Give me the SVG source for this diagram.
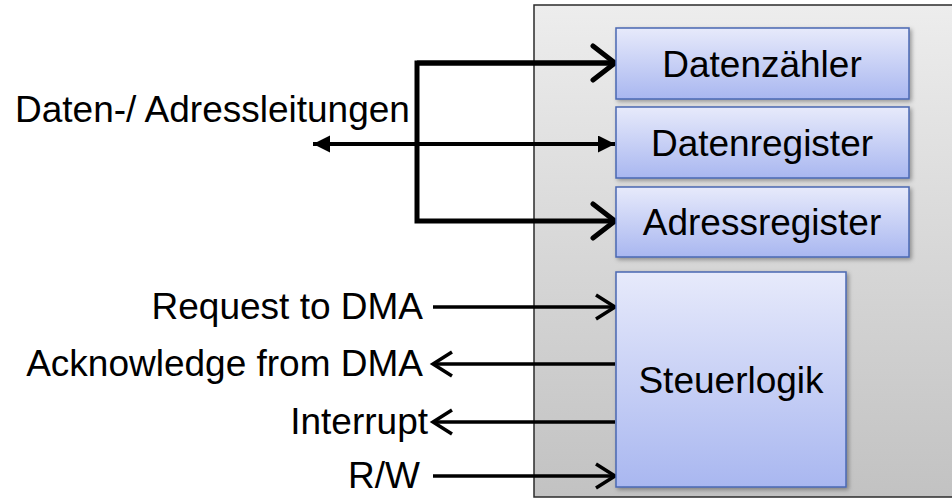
<svg xmlns="http://www.w3.org/2000/svg" width="952" height="499" viewBox="0 0 952 499">
  <defs>
    <linearGradient id="caseFill" x1="0" y1="0" x2="0" y2="1">
      <stop offset="0" stop-color="#ededed"/>
      <stop offset="1" stop-color="#c2c2c2"/>
    </linearGradient>
    <linearGradient id="blockFill" x1="0" y1="0" x2="0" y2="1">
      <stop offset="0" stop-color="#e7eafb"/>
      <stop offset="1" stop-color="#a9b7f0"/>
    </linearGradient>
    <filter id="shadow" x="-10%" y="-10%" width="130%" height="130%">
      <feDropShadow dx="2" dy="2" stdDeviation="2" flood-color="#000" flood-opacity="0.35"/>
    </filter>
    <!-- open chevron for the thick bus lines -->
    <marker id="chevBig" markerUnits="userSpaceOnUse" markerWidth="32" markerHeight="42" refX="26" refY="20" orient="auto">
      <path d="M4,3 L26,20 L4,37" fill="none" stroke="#000" stroke-width="5" stroke-linecap="round"/>
    </marker>
    <!-- open chevron for the control lines -->
    <marker id="chevSmall" markerUnits="userSpaceOnUse" markerWidth="26" markerHeight="30" refX="21" refY="14" orient="auto-start-reverse">
      <path d="M2,2 L21,14 L2,26" fill="none" stroke="#000" stroke-width="3.5"/>
    </marker>
    <!-- filled triangle for the bidirectional bus -->
    <marker id="tri" markerUnits="userSpaceOnUse" markerWidth="18" markerHeight="18" refX="17" refY="8.5" orient="auto-start-reverse">
      <path d="M0,0 L17,8.5 L0,17 z" fill="#000"/>
    </marker>
    <style>
      .lbl { font-family: "Liberation Sans", Arial, sans-serif; font-size: 37px; fill: #000; }
      .blk { fill: url(#blockFill); stroke: #4a68b3; stroke-width: 1.5; filter: url(#shadow); }
      .bus { fill: none; stroke: #000; stroke-width: 5; }
      .sig { fill: none; stroke: #000; stroke-width: 3.5; }
    </style>
  </defs>

  <!-- DMA controller housing -->
  <g id="controller">
    <rect x="534" y="5" width="430" height="492" fill="url(#caseFill)" stroke="#2b2b2b" stroke-width="1.5"/>
  </g>

  <g id="connectors">
    <!-- address/data bus -->
    <path class="bus" d="M615,63 H417 V221 H615" marker-end="url(#chevBig)"/>
    <path class="bus" d="M417,63 H615" marker-end="url(#chevBig)"/>
    <line x1="313" y1="144" x2="615" y2="144" stroke="#000" stroke-width="4" marker-start="url(#tri)" marker-end="url(#tri)"/>
    <!-- control signals -->
    <line class="sig" x1="433" y1="307" x2="615" y2="307" marker-end="url(#chevSmall)"/>
    <line class="sig" x1="615" y1="364" x2="433" y2="364" marker-end="url(#chevSmall)"/>
    <line class="sig" x1="615" y1="422" x2="433" y2="422" marker-end="url(#chevSmall)"/>
    <line class="sig" x1="433" y1="476" x2="615" y2="476" marker-end="url(#chevSmall)"/>
  </g>

  <g id="datenzaehler">
    <rect class="blk" x="616" y="28" width="293" height="71"/>
    <text class="lbl" x="762" y="77" text-anchor="middle">Datenzähler</text>
  </g>
  <g id="datenregister">
    <rect class="blk" x="616" y="107" width="293" height="71"/>
    <text class="lbl" x="762" y="156" text-anchor="middle">Datenregister</text>
  </g>
  <g id="adressregister">
    <rect class="blk" x="616" y="187" width="293" height="70"/>
    <text class="lbl" x="762" y="235" text-anchor="middle">Adressregister</text>
  </g>
  <g id="steuerlogik">
    <rect class="blk" x="616" y="272" width="230" height="215"/>
    <text class="lbl" x="731" y="393" text-anchor="middle">Steuerlogik</text>
  </g>

  <g id="labels">
    <text class="lbl" x="15" y="122">Daten-/ Adressleitungen</text>
    <text class="lbl" x="423" y="319" text-anchor="end">Request to DMA</text>
    <text class="lbl" x="423" y="376" text-anchor="end">Acknowledge from DMA</text>
    <text class="lbl" x="428" y="434" text-anchor="end">Interrupt</text>
    <text class="lbl" x="420" y="488" text-anchor="end">R/W</text>
  </g>
</svg>
